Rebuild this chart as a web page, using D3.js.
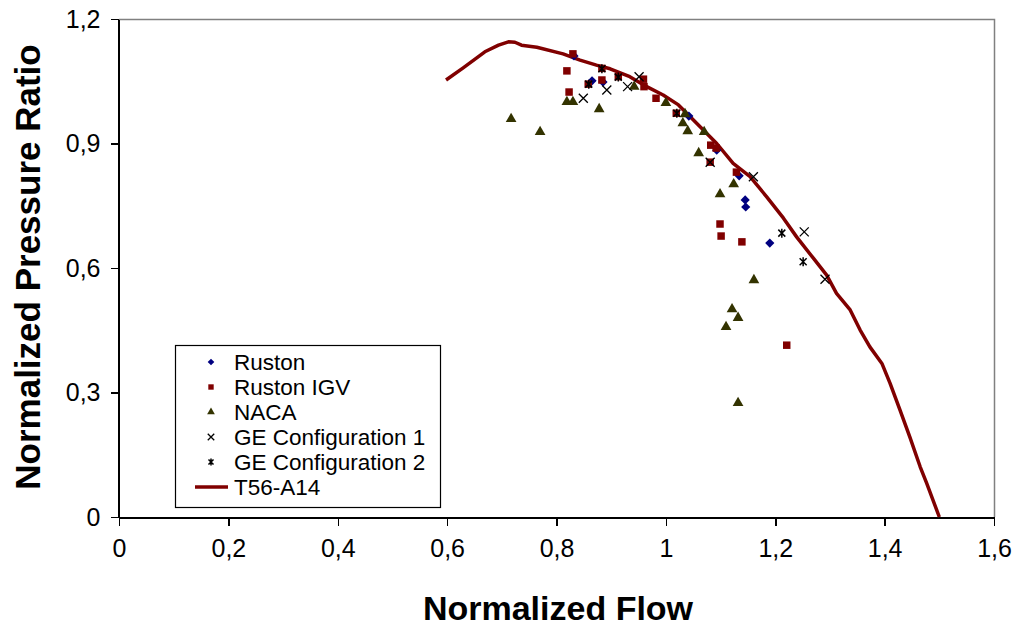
<!DOCTYPE html>
<html>
<head>
<meta charset="utf-8">
<script src="https://cdn.jsdelivr.net/npm/d3@7"></script>
<style>
  body { margin: 0; background: #fff; }
  svg { font-family: "Liberation Sans", Arial, sans-serif; }
  .axis path, .axis line { stroke: #000; shape-rendering: crispEdges; }
  .axis text { font-size: 25px; fill: #000; }
  .title { font-size: 34px; font-weight: bold; }
  .legend text { font-size: 22.5px; }
</style>
</head>
<body>
<svg width="1021" height="627"></svg>
<script>
// [flow, pressure ratio]
var ruston = [[0.832,1.111],[0.865,1.051],[0.885,1.048],[1.042,0.966],[1.093,0.884],
  [1.134,0.822],[1.145,0.764],[1.146,0.747],[1.190,0.660]];

var rustonIGV = [[0.830,1.116],[0.819,1.075],[0.858,1.043],[0.823,1.024],[0.883,1.053],
  [0.883,1.081],[0.913,1.061],[0.959,1.055],[0.960,1.037],[0.982,1.009],[1.019,0.973],
  [1.082,0.896],[1.092,0.889],[1.081,0.855],[1.129,0.831],[1.099,0.706],[1.101,0.677],
  [1.139,0.663],[1.221,0.414]];

var naca = [[0.717,0.959],[0.770,0.928],[0.819,1.000],[0.830,1.000],[0.878,0.983],
  [0.942,1.037],[1.000,0.998],[1.035,0.971],[1.031,0.949],[1.040,0.930],[1.070,0.928],
  [1.060,0.877],[1.099,0.778],[1.124,0.802],[1.161,0.571],[1.121,0.501],[1.132,0.480],
  [1.110,0.458],[1.132,0.275]];

var geConfig1 = [[0.849,1.009],[0.892,1.029],[0.930,1.037],[0.951,1.061],[1.081,0.855],
  [1.160,0.820],[1.253,0.687],[1.291,0.573]];

var geConfig2 = [[0.859,1.043],[0.883,1.080],[0.913,1.060],[1.020,0.973],[1.212,0.684],
  [1.251,0.615]];

var t56 = [[0.598,1.053],[0.630,1.083],[0.669,1.121],[0.694,1.137],[0.712,1.145],
  [0.724,1.144],[0.736,1.137],[0.764,1.132],[0.812,1.116],[0.843,1.101],[0.873,1.089],
  [0.898,1.080],[0.934,1.061],[0.965,1.037],[0.995,1.017],[1.023,0.993],[1.044,0.965],
  [1.093,0.900],[1.123,0.852],[1.154,0.820],[1.184,0.772],[1.215,0.720],[1.239,0.675],
  [1.270,0.623],[1.294,0.583],[1.312,0.539],[1.337,0.499],[1.355,0.451],[1.373,0.410],
  [1.395,0.370],[1.410,0.322],[1.428,0.258],[1.446,0.193],[1.465,0.121],[1.477,0.081],
  [1.500,0.000]];

var xTicks = [0, 0.2, 0.4, 0.6, 0.8, 1, 1.2, 1.4, 1.6];
var yTicks = [0, 0.3, 0.6, 0.9, 1.2];
var legendNames = ["Ruston", "Ruston IGV", "NACA", "GE Configuration 1", "GE Configuration 2", "T56-A14"];

var svg = d3.select("svg");
var plotL = 119, plotR = 994, plotT = 19, plotB = 517;

var x = d3.scaleLinear().domain([0, 1.6]).range([plotL, plotR]);
var y = d3.scaleLinear().domain([0, 1.2]).range([plotB, plotT]);
var fmt = function(d) { return String(d).replace(".", ","); };

// plot area border (grey, top + right)
svg.append("path")
  .attr("d", "M" + plotL + "," + (plotT + 0.5) + "H" + (plotR + 0.5) + "V" + plotB)
  .attr("fill", "none")
  .attr("stroke", "#808080")
  .attr("stroke-width", 1.5);

svg.append("g")
  .attr("class", "axis")
  .attr("transform", "translate(" + (plotL - 0.5) + ",0)")
  .call(d3.axisLeft(y).tickValues(yTicks).tickFormat(fmt).tickSize(8).tickSizeOuter(0).tickPadding(10))
  .call(g => g.selectAll("path,line").attr("stroke-width", 1.5));

svg.append("g")
  .attr("class", "axis")
  .attr("transform", "translate(0," + (plotB + 0.5) + ")")
  .call(d3.axisBottom(x).tickValues(xTicks).tickFormat(fmt).tickSize(8).tickSizeOuter(0).tickPadding(14))
  .call(g => g.selectAll("path,line").attr("stroke-width", 1.5));

svg.append("text").attr("class", "title")
  .attr("x", 558).attr("y", 620).attr("text-anchor", "middle")
  .text("Normalized Flow");

svg.append("text").attr("class", "title")
  .attr("transform", "translate(40,267) rotate(-90)")
  .attr("text-anchor", "middle")
  .style("font-size", "35px")
  .text("Normalized Pressure Ratio");

// curve
var line = d3.line().x(d => x(d[0])).y(d => y(d[1]));
svg.append("path").datum(t56)
  .attr("d", line)
  .attr("fill", "none")
  .attr("stroke", "#800000")
  .attr("stroke-width", 3.5)
  .attr("stroke-linejoin", "round");

// marker shapes
function diamondMark(r) { return "M0," + (-r) + "L" + r + ",0L0," + r + "L" + (-r) + ",0Z"; }
function xMark(r) { return "M" + (-r) + "," + (-r) + "L" + r + "," + r + "M" + (-r) + "," + r + "L" + r + "," + (-r); }
function starMark(r) { return xMark(r) + "M0," + (-r - 1) + "V" + (r + 1); }

var series = [
  { data: ruston,    kind: "diamond" },
  { data: rustonIGV, kind: "square" },
  { data: naca,      kind: "triangle" },
  { data: geConfig1, kind: "x" },
  { data: geConfig2, kind: "star" }
];

function drawMarker(g, kind, scale) {
  if (kind === "diamond")
    g.append("path").attr("d", diamondMark(4.6 * scale)).attr("fill", "#000080");
  else if (kind === "square")
    g.append("path").attr("d", d3.symbol(d3.symbolSquare, 56 * scale * scale)()).attr("fill", "#800000");
  else if (kind === "triangle")
    g.append("path").attr("d", d3.symbol(d3.symbolTriangle, 50 * scale * scale)()).attr("fill", "#333300");
  else if (kind === "x")
    g.append("path").attr("d", xMark(4.5 * scale)).attr("stroke", "#000").attr("stroke-width", 1.3).attr("fill", "none");
  else
    g.append("path").attr("d", starMark(3.5 * scale)).attr("stroke", "#000").attr("stroke-width", 1.5).attr("fill", "none");
}

series.forEach(function(s) {
  svg.append("g").selectAll("g")
    .data(s.data)
    .enter().append("g")
      .attr("transform", d => "translate(" + x(d[0]) + "," + y(d[1]) + ")")
      .each(function() { drawMarker(d3.select(this), s.kind, 1); });
});

// legend
var lg = svg.append("g").attr("class", "legend");
lg.append("rect")
  .attr("x", 175.5).attr("y", 345.5).attr("width", 265).attr("height", 162)
  .attr("fill", "#fff").attr("stroke", "#000").attr("stroke-width", 1.2);

var rowY = d3.scalePoint().domain(legendNames).range([362, 487]);
legendNames.forEach(function(name, i) {
  var row = lg.append("g").attr("transform", "translate(0," + rowY(name) + ")");
  if (i < 5) {
    var m = row.append("g").attr("transform", "translate(211,0)");
    drawMarker(m, series[i].kind, 0.72);
  } else {
    row.append("line").attr("x1", 195).attr("x2", 228).attr("y1", 0).attr("y2", 0)
      .attr("stroke", "#800000").attr("stroke-width", 3.5);
  }
  row.append("text").attr("x", 234).attr("y", 8).text(name);
});
</script>
</body>
</html>
